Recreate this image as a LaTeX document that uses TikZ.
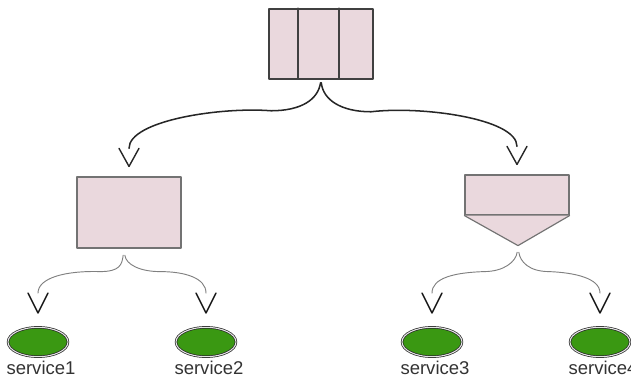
\documentclass[tikz,border=0pt]{standalone}
\usepackage{fontspec}
\setmainfont{Liberation Sans}
\usetikzlibrary{arrows.meta, positioning, shapes.geometric}

% open V head, the line stops at the back of the V
\pgfdeclarearrow{
  name = OpenVee,
  parameters = {\the\pgfarrowlength,\the\pgfarrowwidth,\the\pgfarrowlinewidth},
  setup code = {
    \pgfarrowssettipend{0pt}
    \pgfarrowssetlineend{-\pgfarrowlength}
    \pgfarrowssetbackend{-\pgfarrowlength}
    \pgfarrowshullpoint{0pt}{0pt}
    \pgfarrowsupperhullpoint{-\pgfarrowlength}{.5\pgfarrowwidth}
    \pgfarrowssavethe\pgfarrowlength
    \pgfarrowssavethe\pgfarrowwidth
    \pgfarrowssavethe\pgfarrowlinewidth
  },
  drawing code = {
    \pgfsetdash{}{0pt}
    \pgfsetlinewidth{\pgfarrowlinewidth}
    \pgfpathmoveto{\pgfqpoint{-\pgfarrowlength}{.5\pgfarrowwidth}}
    \pgfpathlineto{\pgfpointorigin}
    \pgfpathlineto{\pgfqpoint{-\pgfarrowlength}{-.5\pgfarrowwidth}}
    \pgfusepathqstroke
  },
  defaults = {length=15pt, width=17pt}
}

\definecolor{boxpink}{RGB}{234,216,221}
\definecolor{svcgreen}{RGB}{58,152,18}

\begin{document}
\begin{tikzpicture}[x=0.03cm, y=-0.03cm, line cap=round, line join=round,
    queuebox/.style={draw=black!75, line width=1.3pt, fill=boxpink,
      minimum width=3.12cm, minimum height=2.1cm, inner sep=0pt},
    workbox/.style={draw=black!55, line width=1pt, fill=boxpink,
      minimum width=3.12cm, inner sep=0pt},
    svc/.style={ellipse, draw=black!85, double=white!90!black, double distance=0.9pt,
      line width=0.6pt, fill=svcgreen, minimum width=1.8cm, minimum height=0.88cm, inner sep=0pt},
    svclabel/.style={font=\fontsize{15.8}{18}\selectfont, text=black!80, inner sep=0pt},
    bigbrace/.style={draw=black!85, line width=1.3pt, shorten <=0.09cm,
      -{OpenVee[length=15.4pt, width=17pt, line width=1.2pt]}, shorten >=0.3cm},
    smallbrace/.style={draw=black!50, line width=0.8pt, shorten <=0.2cm,
      -{OpenVee[length=17pt, width=17pt, black!90, line width=1.2pt]}, shorten >=0.42cm}]

  \clip (0,0) rectangle (631,379);

  %========================
  % queue with three cells
  %========================
  \node[queuebox] (queue) at (321,44) {};
  \draw[draw=black!75, line width=1.3pt] (queue.north west) ++(30,0) -- +(0,70);
  \draw[draw=black!75, line width=1.3pt] (queue.north west) ++(71,0) -- +(0,70);

  %========================
  % worker box and fan-out
  %========================
  \node[workbox, minimum height=2.13cm] (worker) at (129,212.5) {};
  \node[workbox, minimum height=1.2cm] (fanout) at (517,195) {};
  \path[draw=black!55, line width=1pt, fill=boxpink]
    (fanout.south west) -- ([shift={(1,30)}]fanout.south) coordinate (fanout tip) -- (fanout.south east);

  % services
  \node[svc] (svc1) at (38,342) {};
  \node[svc] (svc2) at (206,342) {};
  \node[svc] (svc3) at (432,342) {};
  \node[svc] (svc4) at (600,342) {};
  \node[svclabel, below=0.11cm of svc1, xshift=0.09cm] (svc1 text) {service1};
  \node[svclabel, below=0.11cm of svc2, xshift=0.09cm] (svc2 text) {service2};
  \node[svclabel, below=0.11cm of svc3, xshift=0.09cm] (svc3 text) {service3};
  \node[svclabel, below=0.11cm of svc4, xshift=0.09cm] (svc4 text) {service4};

  %========================
  % braces
  %========================
  \draw[bigbrace] (queue.south) .. controls +(-3,20) and +(30,0) .. ++(-50,31)
    .. controls +(-50,-4) and +(0,-56) .. (worker.north);
  \draw[bigbrace] (queue.south) .. controls +(2,20) and +(-30,0) .. ++(50,32)
    .. controls +(50,-6) and +(0,-56) .. (fanout.north);

  \draw[smallbrace] ([xshift=-0.15cm]worker.south) .. controls +(-2,16) and +(20,0) .. ++(-24,23)
    .. controls +(-35,-1) and +(0,-49) .. (svc1.north);
  \draw[smallbrace] ([xshift=-0.15cm]worker.south) .. controls +(2,16) and +(-20,0) .. ++(36,23)
    .. controls +(25,0) and +(0,-49) .. (svc2.north);

  \draw[smallbrace] (fanout tip) .. controls +(-2,16) and +(20,0) .. ++(-34,26)
    .. controls +(-30,1) and +(0,-49) .. (svc3.north);
  \draw[smallbrace] (fanout tip) .. controls +(2,16) and +(-20,0) .. ++(31,26)
    .. controls +(25,1) and +(0,-49) .. (svc4.north);

\end{tikzpicture}
\end{document}
